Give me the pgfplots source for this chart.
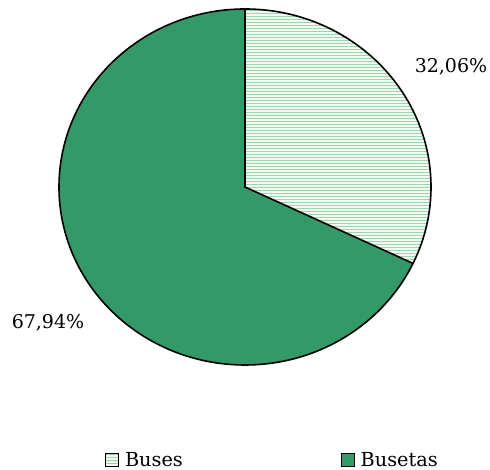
\documentclass[border=0pt]{standalone}
\usepackage{pgfplots}
\pgfplotsset{compat=1.18}
\usepackage{pgfplotstable}
\usepackage{fontspec}
\setmainfont{DejaVu Serif}
\usetikzlibrary{patterns}
\definecolor{busetas}{HTML}{339966}
\definecolor{buslines}{HTML}{9ED4AE}
\definecolor{busbg}{HTML}{F2FAF4}
\pgfplotstableread{
label value
Buses 32.06
Busetas 67.94
}\piedata
\begin{document}
\begin{tikzpicture}
\pgfplotstablegetelem{0}{value}\of\piedata \let\vA\pgfplotsretval
\pgfplotstablegetelem{1}{value}\of\piedata \let\vB\pgfplotsretval
\pgfmathsetmacro{\aEnd}{90-3.6*\vA}
\pgfmathsetmacro{\bEnd}{\aEnd-3.6*\vB}
\begin{axis}[hide axis, scale only axis, width=490pt, height=470pt,
  xmin=0, xmax=490, ymin=0, ymax=470, clip=false,
  legend columns=2,
  legend style={at={(axis cs:105,10)}, anchor=west, draw=none, fill=none,
    inner sep=0pt, font=\fontsize{19.3}{22}\selectfont,
    /tikz/every even column/.append style={column sep=152pt},
    nodes={inner xsep=6pt}},
  legend cell align=left]
\addlegendimage{legend image code/.code={\draw[fill=busbg, draw=black, line width=0.8pt] (0pt,-6.5pt) rectangle (13pt,6.5pt);
  \fill[pattern=horizontal lines, pattern color=buslines] (0pt,-6.5pt) rectangle (13pt,6.5pt);
  \draw[black, line width=0.8pt] (0pt,-6.5pt) rectangle (13pt,6.5pt);}}
\addlegendentry{Buses}
\addlegendimage{legend image code/.code={\draw[fill=busetas, draw=black, line width=0.8pt] (0pt,-6.5pt) rectangle (13pt,6.5pt);}}
\addlegendentry{Busetas}
% Busetas slice
\fill[busetas] (axis cs:245,283) -- ++(\aEnd:186pt and 178pt) arc[start angle=\aEnd, end angle=\bEnd, x radius=186pt, y radius=178pt] -- cycle;
% Buses slice
\fill[busbg] (axis cs:245,283) -- (axis cs:245,461) arc[start angle=90, end angle=\aEnd, x radius=186pt, y radius=178pt] -- cycle;
\fill[pattern=horizontal lines, pattern color=buslines] (axis cs:245,283) -- (axis cs:245,461) arc[start angle=90, end angle=\aEnd, x radius=186pt, y radius=178pt] -- cycle;
% outlines
\draw[black, line width=1.6pt] (axis cs:245,283) ellipse[x radius=186pt, y radius=178pt];
\draw[black, line width=1.6pt] (axis cs:245,461) -- (axis cs:245,283) -- ++(\aEnd:186pt and 178pt);
\node[font=\fontsize{19}{22}\selectfont] at (axis cs:451,403) {32,06\%};
\node[font=\fontsize{19}{22}\selectfont] at (axis cs:48,147) {67,94\%};
\end{axis}
\pgfresetboundingbox
\path (current axis.south west) rectangle (current axis.north east);
\end{tikzpicture}
\end{document}
